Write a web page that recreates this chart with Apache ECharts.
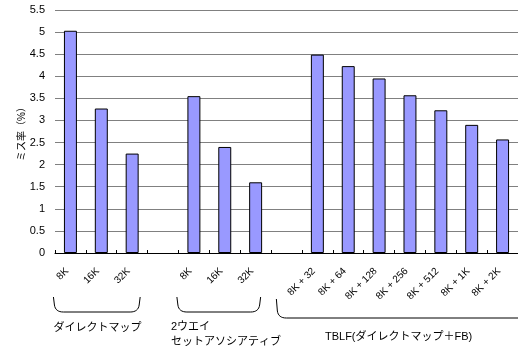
<!DOCTYPE html>
<html><head><meta charset="utf-8">
<script src="https://cdn.jsdelivr.net/npm/echarts@6/dist/echarts.min.js"></script>
<style>html,body{margin:0;padding:0;background:#fff}#c{width:518px;height:351px}</style>
</head><body><div id="c"></div>
<script>
const categories = ['8K','16K','32K','','8K','16K','32K','','8K + 32','8K + 64','8K + 128','8K + 256','8K + 512','8K + 1K','8K + 2K'];
const missRate = [5.03,3.27,2.25,'-',3.55,2.40,1.60,'-',4.49,4.23,3.95,3.57,3.23,2.90,2.57];
const yAxisTitle = 'ミス率（%）';
const groupNames = ['ダイレクトマップ', '2ウエイ', 'セットアソシアティブ', 'TBLF(ダイレクトマップ＋FB)'];
const groupRanges = [[0,2],[4,6],[8,14]];

const FONT = '"Liberation Sans","Noto Sans CJK JP",sans-serif';
const chart = echarts.init(document.getElementById('c'), null, {renderer:'canvas'});
chart.setOption({
  animation:false,
  backgroundColor:'#fff',
  grid:{left:55,right:0,top:10,bottom:98,containLabel:false},
  xAxis:{
    type:'category', data:categories,
    axisLine:{lineStyle:{color:'#000',width:1}},
    axisTick:{show:true,inside:true,length:3,alignWithLabel:false,lineStyle:{color:'#000'}},
    axisLabel:{rotate:45,fontSize:10,color:'#000',fontFamily:FONT,margin:13,padding:[0,5,0,0],interval:0}
  },
  yAxis:{
    type:'value', min:0, max:5.5, interval:0.5,
    name:yAxisTitle, nameLocation:'middle', nameGap:28, nameRotate:90, nameMoveOverlap:false,
    nameTextStyle:{fontSize:10,color:'#000',fontFamily:FONT},
    axisLine:{show:false}, axisTick:{show:false},
    axisLabel:{fontSize:11,color:'#000',fontFamily:FONT,margin:10},
    splitLine:{lineStyle:{color:'#808080',width:1}}
  },
  series:[{
    type:'bar', data:missRate, barWidth:'42%',
    itemStyle:{color:'#9999FF',borderColor:'#000',borderWidth:1}
  }]
});

function px(i){ return chart.convertToPixel({xAxisIndex:0}, i); }
function quad(p0,p1,p2,n){
  const out=[];
  for(let k=0;k<=n;k++){const t=k/n,u=1-t;
    out.push([u*u*p0[0]+2*u*t*p1[0]+t*t*p2[0], u*u*p0[1]+2*u*t*p1[1]+t*t*p2[1]]);}
  return out;
}
function bracket(l, r, top, bot, rTop){
  let pts=[[l,top]];
  pts=pts.concat(quad([l+1,bot-7],[l+2,bot],[l+10,bot],8));
  pts=pts.concat(quad([r-10,bot],[r-2,bot],[r-1,bot-7],8));
  pts.push([r,rTop]);
  return pts;
}
const c0 = px(groupRanges[0][0]), c2 = px(groupRanges[0][1]);
const c4 = px(groupRanges[1][0]), c6 = px(groupRanges[1][1]);
const c8 = px(groupRanges[2][0]), c14 = px(groupRanges[2][1]);
const ls = {stroke:'#000',lineWidth:1,fill:null};
const ts = {fill:'#000',fontSize:11,fontFamily:FONT};
chart.setOption({graphic:[
  {type:'polyline',shape:{points:bracket(c0-17,c2+8,297,312,297)},style:ls},
  {type:'polyline',shape:{points:bracket(c4-17,c6+5,297,312,297)},style:ls},
  {type:'polyline',shape:{points:bracket(c8-41,c14+40,299,318,305)},style:ls},
  {type:'text',left:c0-17,top:322,style:Object.assign({text:groupNames[0]},ts)},
  {type:'text',left:c4-23,top:321,style:Object.assign({text:groupNames[1]},ts)},
  {type:'text',left:c4-23,top:336,style:Object.assign({text:groupNames[2]},ts)},
  {type:'text',left:(c8+c14)/2-85,top:331,style:Object.assign({text:groupNames[3]},ts)}
]});
</script></body></html>
